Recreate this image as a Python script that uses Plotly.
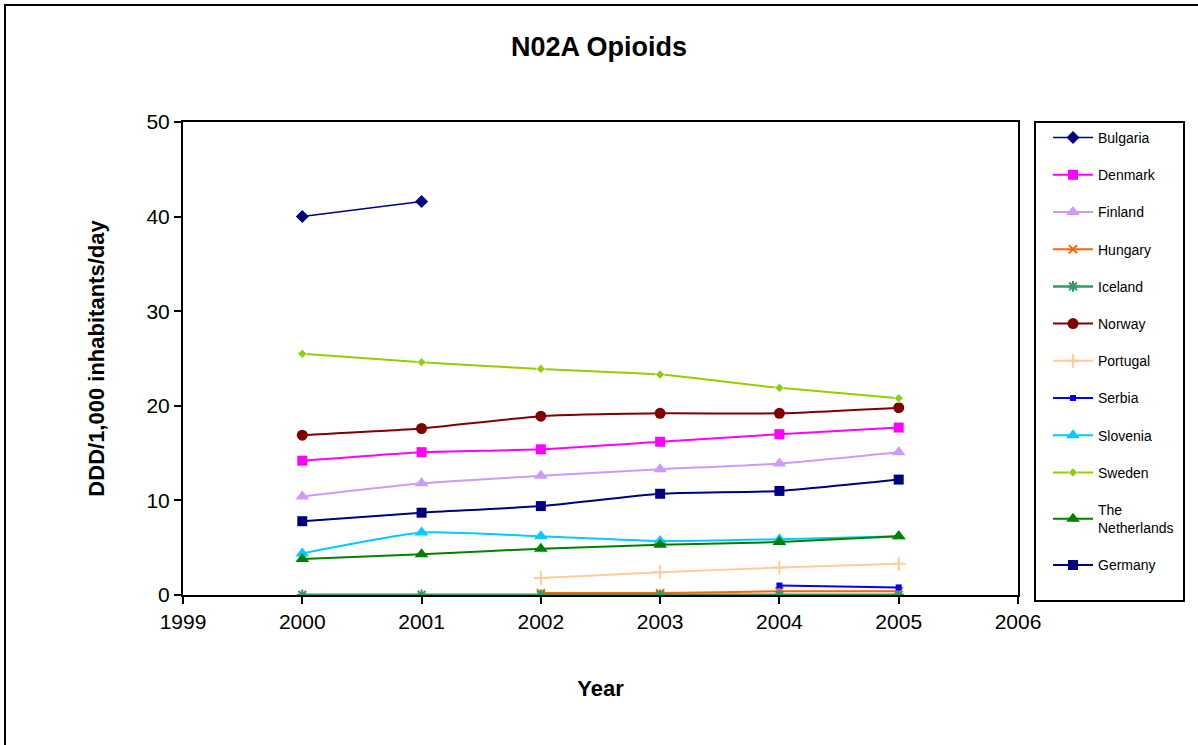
import plotly.graph_objects as go

years = [2000, 2001, 2002, 2003, 2004, 2005]

bulgaria = [40.0, 41.6, None, None, None, None]
denmark = [14.2, 15.1, 15.4, 16.2, 17.0, 17.7]
finland = [10.4, 11.8, 12.6, 13.3, 13.9, 15.1]
hungary = [None, None, 0.2, 0.2, 0.4, 0.4]
iceland = [0.02, 0.02, 0.02, 0.02, 0.02, 0.02]
norway = [16.9, 17.6, 18.9, 19.2, 19.2, 19.8]
portugal = [None, None, 1.8, 2.4, 2.9, 3.3]
serbia = [None, None, None, None, 1.0, 0.8]
slovenia = [4.4, 6.6, 6.2, 5.7, 5.9, 6.2]
sweden = [25.5, 24.6, 23.9, 23.3, 21.9, 20.8]
netherlands = [3.8, 4.3, 4.9, 5.3, 5.6, 6.2]
germany = [7.8, 8.7, 9.4, 10.7, 11.0, 12.2]

series_names = ["Bulgaria", "Denmark", "Finland", "Hungary", "Iceland", "Norway",
                "Portugal", "Serbia", "Slovenia", "Sweden", "The<br>Netherlands", "Germany"]
series_values = [bulgaria, denmark, finland, hungary, iceland, norway,
                 portugal, serbia, slovenia, sweden, netherlands, germany]

styles = [
    dict(color="#000080", symbol="diamond", size=10, lw=1.5, mline=None),
    dict(color="#FF00FF", symbol="square", size=10, lw=2, mline=None),
    dict(color="#CC99FF", symbol="triangle-up", size=12, lw=2, mline=None),
    dict(color="#FF6600", symbol="x-thin-open", size=8, lw=2, mline=None),
    dict(color="#339966", symbol="asterisk-open", size=9, lw=2.5, mline=None),
    dict(color="#800000", symbol="circle", size=11, lw=2, mline=None),
    dict(color="#FFCC99", symbol="cross-thin-open", size=10, lw=2, mline=None),
    dict(color="#0000FF", symbol="square", size=6, lw=2, mline=None),
    dict(color="#00CCFF", symbol="triangle-up", size=12, lw=2, mline=None),
    dict(color="#99CC00", symbol="diamond", size=7, lw=2, mline="#CCFFFF"),
    dict(color="#008000", symbol="triangle-up", size=12, lw=2, mline=None),
    dict(color="#000080", symbol="square", size=10, lw=2, mline=None),
]

font_family = "Liberation Sans, Arial, sans-serif"

fig = go.Figure()
for name, vals, st in zip(series_names, series_values, styles):
    marker = dict(symbol=st["symbol"], size=st["size"], color=st["color"])
    if st["symbol"].endswith("open"):
        marker["line"] = dict(color=st["color"], width=2)
    elif st["mline"]:
        marker["line"] = dict(color=st["mline"], width=1)
    else:
        marker["line"] = dict(width=0)
    fig.add_trace(go.Scatter(
        x=years, y=vals, name=name, mode="lines+markers",
        line=dict(color=st["color"], width=st["lw"], shape="spline", smoothing=0.5),
        marker=marker, connectgaps=False, legendgroup=name,
    ))

L, R, T, B = 183, 180, 122, 150
W, H = 1198, 745
pw = W - L - R
ph = H - T - B

def px_x(px):
    return (px - L) / pw

def px_y(py):
    return (H - B - py) / ph

fig.update_layout(
    width=W, height=H,
    margin=dict(l=L, r=R, t=T, b=B, autoexpand=False),
    paper_bgcolor="white", plot_bgcolor="white",
    font=dict(family=font_family, color="black"),
    title=dict(text="<b>N02A Opioids</b>", x=0.5, xref="container", xanchor="center",
               y=1 - 47 / H, yref="container", yanchor="middle",
               font=dict(size=27, family=font_family, color="black")),
    xaxis=dict(range=[1999, 2006], dtick=1, tick0=1999, showgrid=False, zeroline=False,
               showline=True, linecolor="black", linewidth=2, mirror=True,
               ticks="outside", ticklen=7, tickcolor="black", tickwidth=2,
               tickfont=dict(size=21, family=font_family),
               title=dict(text="<b>Year</b>", font=dict(size=22, family=font_family), standoff=48)),
    yaxis=dict(range=[0, 50], dtick=10, showgrid=False, zeroline=False,
               showline=True, linecolor="black", linewidth=2, mirror=True,
               ticks="outside", ticklen=7, tickcolor="black", tickwidth=2,
               tickfont=dict(size=21, family=font_family),
               title=dict(text="<b>DDD/1,000 inhabitants/day</b>", font=dict(size=22, family=font_family), standoff=36)),
    legend=dict(x=px_x(1048), y=1.0, xanchor="left", yanchor="top",
                bgcolor="rgba(0,0,0,0)", borderwidth=0,
                font=dict(size=14, family=font_family),
                tracegroupgap=16, itemwidth=40),
    showlegend=True,
    shapes=[
        dict(type="rect", xref="paper", yref="paper",
             x0=px_x(1035), x1=px_x(1184), y0=px_y(601), y1=px_y(122),
             line=dict(color="black", width=2), fillcolor="rgba(0,0,0,0)", layer="above"),
        dict(type="rect", xref="paper", yref="paper",
             x0=px_x(5), x1=px_x(1260), y0=px_y(790), y1=px_y(5),
             line=dict(color="black", width=2), fillcolor="rgba(0,0,0,0)", layer="above"),
    ],
)

fig.write_html("out.html", config={"displayModeBar": False},
               post_script="document.body.style.margin='0';document.body.style.overflow='hidden';")
